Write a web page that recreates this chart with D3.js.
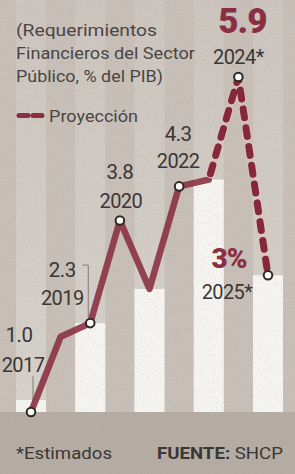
<!DOCTYPE html>
<html><head><meta charset="utf-8">
<script src="https://cdn.jsdelivr.net/npm/d3@7"></script>
<style>html,body{margin:0;padding:0;background:#c6beb7;overflow:hidden}</style>
</head><body>
<svg id="c" width="295" height="474"></svg>
<script>
// ---- data ----
const years = [2017, 2018, 2019, 2020, 2021, 2022, 2023, 2024, 2025];
const values = [1.0, 2.1, 2.3, 3.8, 2.8, 4.3, 4.4, 5.9, 3.0];
const solidYears = [2017, 2018, 2019, 2020, 2021, 2022, 2023];
const projectionYears = [2023, 2024, 2025];
const barYears = [2017, 2019, 2021, 2023, 2025];
const markerYears = [2017, 2019, 2020, 2022, 2024, 2025];
const valueLabels = ["1.0", "2.3", "3.8", "4.3", "5.9", "3%"];
const yearLabels = ["2017", "2019", "2020", "2022", "2024*", "2025*"];
const titleLines = ["(Requerimientos", "Financieros del Sector", "Público, % del PIB)"];
const legendLabel = "Proyección";
const noteText = "*Estimados";
const sourceLabel = "FUENTE:";
const sourceText = "SHCP";

// ---- layout ----
const W = 295, H = 474;
const val = y => values[years.indexOf(y)];
const x = d3.scaleLinear().domain([2017, 2025]).range([31, 268]);
const y = d3.scaleLinear().domain([1.0, 5.9]).range([412, 77]);
const base = y(1.0);
const textCol = "#3a3734", maroon = "#8a2f42";
// label offsets relative to each marked point: [value dx, value dy, year dx, year dy]
const labelOffsets = [[-12,-70,-8,-40],[-28,-46,-28,-18],[0,-42,1,-13],[-1,-45,-1,-18],[4,-44,0,-13],[-39,-7,-41,24]];
const valueBold = [false,false,false,false,true,true];

const svg = d3.select("#c");
const defs = svg.append("defs");
const f = defs.append("filter").attr("id","grain").attr("x",0).attr("y",0).attr("width","100%").attr("height","100%");
f.append("feTurbulence").attr("type","fractalNoise").attr("baseFrequency",0.85).attr("numOctaves",2).attr("seed",3).attr("result","n");
f.append("feColorMatrix").attr("in","n").attr("type","matrix")
 .attr("values","0 0 0 0 0.35  0 0 0 0 0.32  0 0 0 0 0.3  0 0 0 -1.4 0.75");
const gr = defs.append("linearGradient").attr("id","fade").attr("x1",0).attr("x2",0).attr("y1",0).attr("y2",1);
gr.append("stop").attr("offset","0%").attr("stop-color","#f6f4f1").attr("stop-opacity",0.12);
gr.append("stop").attr("offset","100%").attr("stop-color","#f6f4f1").attr("stop-opacity",0.35);

svg.append("rect").attr("width",W).attr("height",H).attr("fill","#c7bfb8");
svg.append("rect").attr("y",base).attr("width",W).attr("height",H-base).attr("fill","#b5aca4");

// faint full-height stripes for odd years
svg.append("g").selectAll("rect").data(barYears).join("rect")
  .attr("x", d => x(d) - 15).attr("width", 30).attr("y", 0).attr("height", base)
  .attr("fill", "url(#fade)");

// white bars for odd years
svg.append("g").selectAll("rect").data(barYears).join("rect")
  .attr("x", d => x(d) - 15).attr("width", 30)
  .attr("y", d => Math.min(y(val(d)), base - 12))
  .attr("height", d => base - Math.min(y(val(d)), base - 12))
  .attr("fill", "#f7f5f2");

// grain overlay
svg.append("rect").attr("width",W).attr("height",H).attr("filter","url(#grain)").attr("opacity",0.35);

// leader lines
const lg = svg.append("g").attr("stroke","#6b6460").attr("stroke-width",0.8).attr("fill","none");
lg.append("line").attr("x1",x(2017)+2).attr("x2",x(2017)+2).attr("y1",376).attr("y2",base-5);
lg.append("path").attr("d",`M${x(2019)-8},${y(2.3)-58}H${x(2019)-2}V${y(2.3)-6}`);

// solid line
const line = d3.line().x(d => x(d)).y(d => y(val(d)));
svg.append("path").datum(solidYears).attr("d", line)
  .attr("fill","none").attr("stroke","#8c3546").attr("stroke-width",6.5)
  .attr("stroke-linejoin","round").attr("stroke-linecap","round").attr("opacity",0.92);

// projection dashed line
svg.append("path").datum(projectionYears).attr("d", line)
  .attr("fill","none").attr("stroke","#e2c2c2").attr("stroke-width",9)
  .attr("stroke-linecap","round").attr("stroke-dasharray","9,10").attr("stroke-dashoffset",-6);
svg.append("path").datum(projectionYears).attr("d", line)
  .attr("fill","none").attr("stroke","#84283b").attr("stroke-width",7)
  .attr("stroke-linecap","round").attr("stroke-dasharray","9,10").attr("stroke-dashoffset",-6);

// markers
svg.append("g").selectAll("circle").data(markerYears).join("circle")
  .attr("cx", d => x(d)).attr("cy", d => y(val(d))).attr("r", 4.3)
  .attr("fill","#fbfaf8").attr("stroke","#2b2826").attr("stroke-width",2);

// point labels
const lab = svg.append("g").attr("font-family","Roboto, 'Open Sans', sans-serif").attr("text-anchor","middle");
markerYears.forEach((yr, i) => {
  const px = x(yr), py = y(val(yr)), o = labelOffsets[i];
  lab.append("text").attr("x", px + o[0]).attr("y", py + o[1])
    .attr("font-size", valueBold[i] ? (i === 4 ? 35 : 28) : 20.5)
    .attr("font-weight", valueBold[i] ? 900 : 400)
    .attr("letter-spacing", valueBold[i] ? -1 : -0.5)
    .attr("fill", valueBold[i] ? maroon : textCol).text(valueLabels[i]);
  lab.append("text").attr("x", px + o[2]).attr("y", py + o[3])
    .attr("font-size", 20).attr("letter-spacing", -0.6).attr("fill", textCol).text(yearLabels[i]);
});

// title
const tw = [141, 179, 147];
svg.append("g").selectAll("text").data(titleLines).join("text")
  .attr("x", 16).attr("y", (d, i) => 36 + i * 23)
  .attr("font-family","Roboto, sans-serif").attr("font-size",16.5).attr("fill","#4a4643")
  .attr("textLength", (d, i) => tw[i]).attr("lengthAdjust","spacingAndGlyphs").text(d => d);

// legend
svg.append("line").attr("x1",19).attr("x2",44).attr("y1",115.5).attr("y2",115.5)
  .attr("stroke","#8a2f42").attr("stroke-width",5).attr("stroke-linecap","round").attr("stroke-dasharray","9,5");
svg.append("text").attr("x",49).attr("y",122).attr("font-family","Roboto, sans-serif")
  .attr("font-size",17).attr("fill","#4a4643").attr("textLength",89).attr("lengthAdjust","spacingAndGlyphs").text(legendLabel);

// footer
svg.append("text").attr("x",16).attr("y",459).attr("font-family","Roboto, sans-serif")
  .attr("font-size",17).attr("fill",textCol).attr("textLength",96).attr("lengthAdjust","spacingAndGlyphs").text(noteText);
const src = svg.append("text").attr("x",157).attr("y",459).attr("font-family","Roboto, sans-serif")
  .attr("font-size",17).attr("fill",textCol).attr("textLength",126).attr("lengthAdjust","spacingAndGlyphs");
src.append("tspan").attr("font-weight",700).text(sourceLabel);
src.append("tspan").text(" " + sourceText);
</script>
</body></html>
